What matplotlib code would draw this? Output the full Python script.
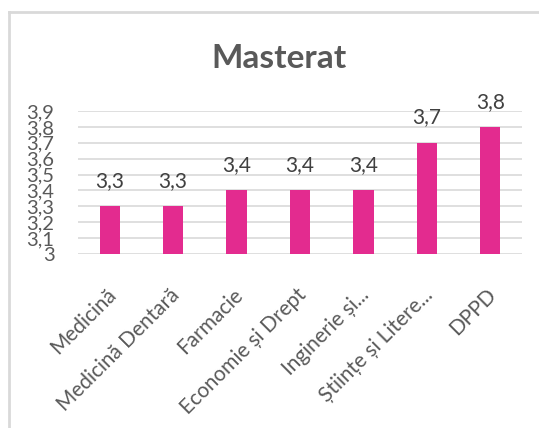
import matplotlib
matplotlib.use("Agg")
import matplotlib.pyplot as plt
from matplotlib.lines import Line2D
from matplotlib.transforms import ScaledTranslation

plt.rcParams['font.family'] = ['Lato', 'DejaVu Sans']

categories = ["Medicină", "Medicină Dentară", "Farmacie", "Economie și Drept",
              "Inginerie și...", "Științe și Litere...", "DPPD"]
values = [3.3, 3.3, 3.4, 3.4, 3.4, 3.7, 3.8]
yticks = [3.0, 3.1, 3.2, 3.3, 3.4, 3.5, 3.6, 3.7, 3.8, 3.9]
title = "Masterat"

bar_color = "#E32B8F"
grid_color = "#D9D9D9"
text_color = "#595959"

W, H = 539, 428
fig = plt.figure(figsize=(W / 100, H / 100), dpi=100)
ax = fig.add_axes([78 / W, 1 - 254 / H, 444 / W, 143 / H])

x = list(range(len(categories)))
ax.bar(x, [v - yticks[0] for v in values], bottom=yticks[0], width=0.32,
       color=bar_color, zorder=3)

for xi, v in zip(x, values):
    ax.annotate(f"{v:.1f}".replace(".", ","), (xi, v), xytext=(0, 11),
                textcoords="offset points", ha="center", va="bottom",
                fontsize=15, color="#404040")

ax.set_xlim(-0.5, len(categories) - 0.5)
ax.set_ylim(yticks[0], yticks[-1])
ax.set_yticks(yticks)
ax.set_yticklabels([("%g" % t).replace(".", ",") for t in yticks],
                   fontsize=14.5, color=text_color)
ax.yaxis.grid(True, color=grid_color, lw=1.2, zorder=0)
ax.set_xticks(x)
ax.set_xticklabels(categories, rotation=45, ha="right", rotation_mode="anchor",
                   fontsize=15, color=text_color)
ax.tick_params(axis="both", length=0)
ax.tick_params(axis="y", pad=17)
ax.tick_params(axis="x", pad=22)
shift = ScaledTranslation(-4 / 100, 0, fig.dpi_scale_trans)
for lbl in ax.get_xticklabels():
    lbl.set_transform(lbl.get_transform() + shift)
for s in ax.spines.values():
    s.set_visible(False)

fig.text(279 / W, 1 - 58 / H, title, ha="center", va="center",
         fontsize=24, fontweight="bold", color=text_color)

# outer chart frame (only top and left edges visible)
fig.add_artist(Line2D([8.5 / W, 8.5 / W], [0, 1 - 12 / H], color=grid_color,
                      lw=2, transform=fig.transFigure))
fig.add_artist(Line2D([8.5 / W, 1], [1 - 12 / H, 1 - 12 / H], color=grid_color,
                      lw=2, transform=fig.transFigure))

fig.savefig("out.png", dpi=100)
